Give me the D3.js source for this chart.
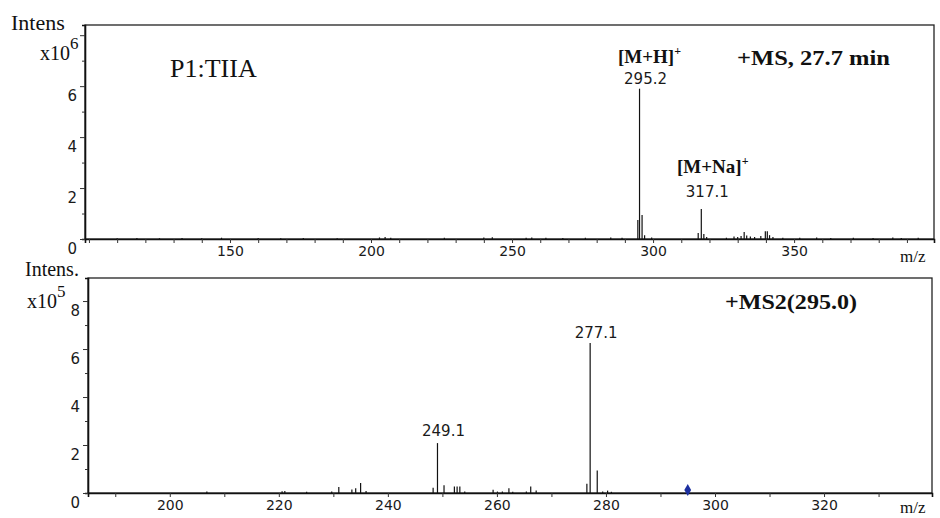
<!DOCTYPE html>
<html>
<head>
<meta charset="utf-8">
<script src="https://cdn.jsdelivr.net/npm/d3@7"></script>
<style>
  body { margin: 0; background: #fff; }
  svg { display: block; }
  .tick text { font-family: "DejaVu Sans", sans-serif; font-size: 14px; fill: #1a1a1a; }
  .yax .tick text { font-size: 15px; }
  .serif { font-family: "Liberation Serif", "Times New Roman", serif; fill: #111; }
  .num { font-family: "DejaVu Sans", sans-serif; font-size: 15px; fill: #1a1a1a; }
</style>
</head>
<body>
<script>
const WIDTH = 940;
const HEIGHT = 518;

// MS scan, intensity in units of 10^6
const msMz = [110, 117, 125, 133, 140, 147, 160, 168, 176, 188, 203, 205, 207, 226, 240, 243, 255, 257, 262,
  268, 276, 285, 289, 294.6, 295.2, 296.1, 297, 299.5, 316.0, 317.1, 318.0, 319, 326, 328.7, 330, 331.2,
  332.3, 333.2, 334.5, 336, 338.2, 339.8, 340.5, 341.3, 342.5, 346, 352, 358, 363, 371, 378, 385, 388, 394];
const msInt = [0.03, 0.04, 0.03, 0.04, 0.03, 0.05, 0.04, 0.03, 0.04, 0.03, 0.06, 0.08, 0.05, 0.05, 0.06, 0.07, 0.05, 0.06, 0.05,
  0.04, 0.05, 0.06, 0.05, 0.75, 5.9, 0.94, 0.15, 0.06, 0.24, 1.18, 0.2, 0.08, 0.05, 0.1, 0.08, 0.12,
  0.27, 0.14, 0.1, 0.08, 0.12, 0.3, 0.3, 0.15, 0.08, 0.05, 0.05, 0.06, 0.04, 0.05, 0.04, 0.06, 0.04, 0.05];

// MS2 scan of 295.0, intensity in units of 10^5
const ms2Mz = [206.8, 220.6, 221.1, 225.1, 229.7, 231.0, 233.4, 234.1, 235.0, 236.0, 248.3, 249.1, 250.3,
  252.2, 252.7, 253.2, 254.1, 259.3, 260.1, 261.0, 262.2, 262.9, 265.4, 266.2, 267.2, 276.5, 277.1,
  278.4, 279.4, 280.3, 281.0];
const ms2Int = [0.06, 0.07, 0.08, 0.05, 0.06, 0.25, 0.15, 0.2, 0.42, 0.08, 0.22, 2.08, 0.32,
  0.27, 0.27, 0.27, 0.06, 0.14, 0.06, 0.06, 0.2, 0.05, 0.06, 0.27, 0.1, 0.39, 6.25,
  0.94, 0.06, 0.1, 0.05];
const precursor = 295.0;

const msXTicks = [150, 200, 250, 300, 350];
const ms2XTicks = [200, 220, 240, 260, 280, 300, 320];

const msLabels = [
  { mz: 295.2, text: "295.2", ion: "[M+H]" },
  { mz: 317.1, text: "317.1", ion: "[M+Na]" }
];
const ms2Labels = [
  { mz: 249.1, text: "249.1" },
  { mz: 277.1, text: "277.1" }
];

const svg = d3.select("body").append("svg")
  .attr("width", WIDTH)
  .attr("height", HEIGHT);

const panels = [
  { mz: msMz, inten: msInt, x: [98.6, 399.6], y: [0, 8.4], left: 85, right: 934, top: 25, bottom: 239,
    ticks: msXTicks, yLabels: [0, 2, 4, 6], exp: "6", intens: "Intens", introTop: 30 },
  { mz: ms2Mz, inten: ms2Int, x: [185, 339.8], y: [0, 8.96], left: 88, right: 932, top: 278, bottom: 493,
    ticks: ms2XTicks, yLabels: [0, 2, 4, 6, 8], exp: "5", intens: "Intens.", introTop: 276 }
];

panels.forEach(function (p, idx) {
  p.xScale = d3.scaleLinear().domain(p.x).range([p.left, p.right]);
  p.yScale = d3.scaleLinear().domain(p.y).range([p.bottom, p.top]);

  // frame
  svg.append("rect")
    .attr("x", p.left).attr("y", p.top)
    .attr("width", p.right - p.left).attr("height", p.bottom - p.top)
    .attr("fill", "none").attr("stroke", "#222").attr("stroke-width", 1.3);

  // x axis: ticks every 10, labels on the listed values
  const xTickVals = d3.range(Math.ceil(p.x[0] / 10) * 10, p.x[1], 10);
  const xAxis = d3.axisBottom(p.xScale)
    .tickValues(xTickVals)
    .tickSize(4)
    .tickPadding(1)
    .tickFormat(d => p.ticks.indexOf(d) >= 0 ? d : "");
  const gx = svg.append("g")
    .attr("transform", "translate(0," + p.bottom + ")")
    .call(xAxis);
  gx.select(".domain").attr("stroke", "#111").attr("stroke-width", 1.6);
  gx.selectAll(".tick line").attr("stroke", "#333");
  gx.selectAll(".tick text").attr("dy", "0.85em");

  // y axis: ticks on integers, labels sit just below their tick
  const yTickVals = d3.range(0, Math.floor(p.y[1]) + 1, 1);
  const yAxis = d3.axisLeft(p.yScale)
    .tickValues(yTickVals)
    .tickSize(3)
    .tickPadding(5)
    .tickFormat(d => p.yLabels.indexOf(d) >= 0 ? d : "");
  const gy = svg.append("g")
    .attr("class", "yax")
    .attr("transform", "translate(" + p.left + ",0)")
    .call(yAxis);
  gy.select(".domain").attr("stroke", "#111").attr("stroke-width", 1.6);
  gy.selectAll(".tick line").attr("stroke", "#333")
    .attr("x2", d => d % 2 === 0 ? -5 : -3);
  gy.selectAll(".tick text").attr("dy", "0.95em");

  // spectrum sticks
  svg.append("g").selectAll("line")
    .data(p.mz.map((m, i) => [m, p.inten[i]]))
    .enter().append("line")
    .attr("x1", d => p.xScale(d[0])).attr("x2", d => p.xScale(d[0]))
    .attr("y1", p.yScale(0)).attr("y2", d => p.yScale(d[1]))
    .attr("stroke", "#111").attr("stroke-width", 1.2);

  // axis titles
  svg.append("text").attr("class", "serif")
    .attr("x", idx === 0 ? 11 : 25).attr("y", p.introTop)
    .attr("font-size", idx === 0 ? 22 : 20)
    .text(p.intens);
  const xl = svg.append("text").attr("class", "serif")
    .attr("x", idx === 0 ? 40 : 27).attr("y", idx === 0 ? 60 : 308)
    .attr("font-size", 20);
  xl.append("tspan").text("x10");
  xl.append("tspan").attr("dy", -11).attr("font-size", 17).text(p.exp);

  svg.append("text").attr("class", "serif")
    .attr("x", 900).attr("y", idx === 0 ? 262 : 513)
    .attr("font-size", 17)
    .text("m/z");
});

const msPanel = panels[0], ms2Panel = panels[1];

// MS panel annotations
svg.append("text").attr("class", "serif")
  .attr("x", 170).attr("y", 77)
  .attr("font-size", 26)
  .text("P1:TIIA");

svg.append("text").attr("class", "serif")
  .attr("x", 737).attr("y", 65)
  .attr("font-size", 22).attr("font-weight", "bold")
  .attr("textLength", 153).attr("lengthAdjust", "spacingAndGlyphs")
  .text("+MS, 27.7 min");

const labelY = { "295.2": 84, "317.1": 197 };
const ionY = { "295.2": 63, "317.1": 173 };
const ionX = { "295.2": 618, "317.1": 677 };

msLabels.forEach(function (l) {
  svg.append("text").attr("class", "num")
    .attr("x", msPanel.xScale(l.mz) + 6).attr("y", labelY[l.text])
    .attr("text-anchor", "middle")
    .text(l.text);
  const t = svg.append("text").attr("class", "serif")
    .attr("x", ionX[l.text]).attr("y", ionY[l.text])
    .attr("font-size", 19).attr("font-weight", "bold");
  t.append("tspan").text(l.ion);
  t.append("tspan").attr("dy", -8).attr("font-size", 12).text("+");
});

// MS2 panel annotations
svg.append("text").attr("class", "serif")
  .attr("x", 725).attr("y", 309)
  .attr("font-size", 21).attr("font-weight", "bold")
  .attr("textLength", 132).attr("lengthAdjust", "spacingAndGlyphs")
  .text("+MS2(295.0)");

const ms2LabelY = { "249.1": 436, "277.1": 338 };
ms2Labels.forEach(function (l) {
  svg.append("text").attr("class", "num")
    .attr("x", ms2Panel.xScale(l.mz) + 6).attr("y", ms2LabelY[l.text])
    .attr("text-anchor", "middle")
    .text(l.text);
});

// precursor marker
svg.append("path")
  .attr("d", d3.symbol().type(d3.symbolDiamond).size(40)())
  .attr("transform", "translate(" + ms2Panel.xScale(precursor) + "," + (ms2Panel.yScale(0) - 3) + ")")
  .attr("fill", "#1c2fa0");
</script>
</body>
</html>
